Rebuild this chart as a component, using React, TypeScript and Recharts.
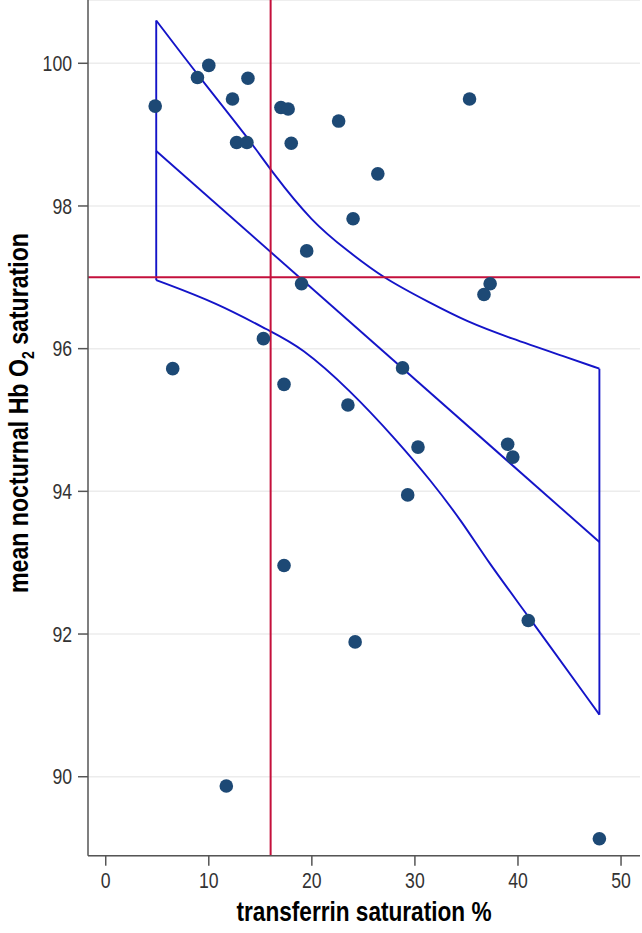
import React from 'react';
import {
    ComposedChart,
    XAxis,
    YAxis,
    CartesianGrid,
    Line,
    Scatter,
    ReferenceLine,
} from 'recharts';

// observed points: transferrin saturation % vs mean nocturnal Hb O2 saturation
const satX = [
    4.8, 8.9, 10.0, 12.3, 13.8, 12.7, 13.7, 17.0, 17.7, 18.0, 19.5, 19.0,
    22.6, 35.3, 26.4, 24.0, 37.3, 36.7, 15.3, 6.5, 17.3, 17.3,
    28.8, 23.5, 30.3, 29.3, 39.0, 39.5, 11.7, 24.2, 41.0, 47.9,
];
const satY = [
    99.4, 99.8, 99.97, 99.5, 99.79, 98.89, 98.89, 99.38, 99.36, 98.88, 97.37, 96.91,
    99.19, 99.5, 98.45, 97.82, 96.91, 96.76, 96.14, 95.72, 95.5, 92.96,
    95.73, 95.21, 94.62, 93.95, 94.66, 94.48, 89.87, 91.89, 92.19, 89.13,
];

// fitted regression line
const fitX = [4.9, 47.9];
const fitY = [98.77, 93.29];

// confidence band
const upperX = [4.9, 8.9, 14.0, 16.0, 20.1, 23.4, 26.9, 31.5, 35.0, 39.2, 44.7, 47.9];
const upperY = [100.6, 99.84, 98.92, 98.5, 97.76, 97.38, 96.99, 96.64, 96.38, 96.15, 95.88, 95.72];
const lowerX = [4.9, 10.8, 16.0, 18.9, 23.7, 28.2, 31.5, 34.7, 37.0, 40.8, 47.9];
const lowerY = [96.96, 96.64, 96.24, 96.03, 95.42, 94.72, 94.16, 93.55, 93.03, 92.29, 90.87];

const xTicks = [0, 10, 20, 30, 40, 50];
const yTicks = [90, 92, 94, 96, 98, 100];

const cutoffX = 16;
const cutoffY = 97;

const points = satX.map((x, i) => ({ x, y: satY[i] }));
const fitLine = fitX.map((x, i) => ({ x, y: fitY[i] }));
const upper = upperX.map((x, i) => ({ x, y: upperY[i] }));
const lower = lowerX.map((x, i) => ({ x, y: lowerY[i] }));
// closing edges of the band at both ends
const leftEdge = [upper[0], lower[0]];
const rightEdge = [upper[upper.length - 1], lower[lower.length - 1]];

const font = '"Liberation Sans", Arial, sans-serif';
const blue = '#1414c8';

const renderYTick = ({ x, y, payload }: any) => (
    <g transform={`translate(${x},${y})`}>
        <text transform="scale(0.82,1)" textAnchor="end" dy="0.36em" fontSize={21.5} fill="#333" fontFamily={font}>
            {payload.value}
        </text>
    </g>
);

const renderXTick = ({ x, y, payload }: any) => (
    <g transform={`translate(${x},${y})`}>
        <text transform="scale(0.82,1)" textAnchor="middle" dy="0.71em" fontSize={21.5} fill="#333" fontFamily={font}>
            {payload.value}
        </text>
    </g>
);

const Dot = (props: any) => <circle cx={props.cx} cy={props.cy} r={6.8} fill="#1d4975" />;

export default function App() {
    return (
        <div style={{ position: 'absolute', left: 0, top: 0, width: 642, height: 933 }}>
            <ComposedChart width={642} height={933} margin={{ top: 0, right: 2, left: 0, bottom: 0 }}>
                <CartesianGrid vertical={false} stroke="#ececec" strokeWidth={1.5} />
                <XAxis
                    type="number"
                    dataKey="x"
                    domain={[-1.72, 51.84]}
                    ticks={xTicks}
                    allowDataOverflow
                    height={77.3}
                    tickSize={10}
                    tickMargin={7}
                    tick={renderXTick}
                    axisLine={{ stroke: '#555', strokeWidth: 1.5 }}
                    tickLine={{ stroke: '#555', strokeWidth: 1.5 }}
                />
                <YAxis
                    type="number"
                    domain={[88.893, 100.887]}
                    ticks={yTicks}
                    allowDataOverflow
                    width={88}
                    tickSize={10}
                    tickMargin={6}
                    tick={renderYTick}
                    axisLine={{ stroke: '#555', strokeWidth: 1.5 }}
                    tickLine={{ stroke: '#555', strokeWidth: 1.5 }}
                />
                <ReferenceLine y={100.887} stroke="#ececec" strokeWidth={1.5} />
                <Line data={upper} dataKey="y" type="basis" stroke={blue} strokeWidth={1.9} dot={false} isAnimationActive={false} />
                <Line data={lower} dataKey="y" type="basis" stroke={blue} strokeWidth={1.9} dot={false} isAnimationActive={false} />
                <Line data={leftEdge} dataKey="y" type="linear" stroke={blue} strokeWidth={1.9} dot={false} isAnimationActive={false} />
                <Line data={rightEdge} dataKey="y" type="linear" stroke={blue} strokeWidth={1.9} dot={false} isAnimationActive={false} />
                <Line data={fitLine} dataKey="y" type="linear" stroke={blue} strokeWidth={1.9} dot={false} isAnimationActive={false} />
                <ReferenceLine x={cutoffX} stroke="#c4103c" strokeWidth={2} />
                <ReferenceLine y={cutoffY} stroke="#c4103c" strokeWidth={2} />
                <Scatter data={points} dataKey="y" shape={<Dot />} isAnimationActive={false} />
            </ComposedChart>
            <svg width={642} height={933} style={{ position: 'absolute', left: 0, top: 0, pointerEvents: 'none' }}>
                <text
                    x={364}
                    y={921}
                    textAnchor="middle"
                    fontSize={27.5}
                    fontWeight="bold"
                    fontFamily={font}
                    textLength={255}
                    lengthAdjust="spacingAndGlyphs"
                >
                    transferrin saturation %
                </text>
                <text
                    transform="translate(28,413) rotate(-90)"
                    textAnchor="middle"
                    fontSize={28}
                    fontWeight="bold"
                    fontFamily={font}
                    textLength={360}
                    lengthAdjust="spacingAndGlyphs"
                >
                    mean nocturnal Hb O<tspan fontSize={17} dy={6}>2</tspan><tspan dy={-6}> saturation</tspan>
                </text>
            </svg>
        </div>
    );
}
